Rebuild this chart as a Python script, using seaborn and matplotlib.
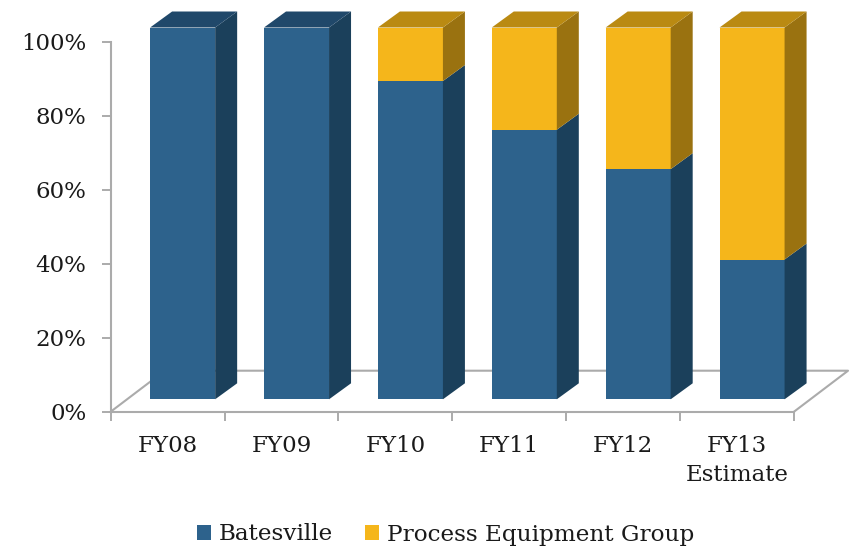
import matplotlib
matplotlib.use("Agg")
import matplotlib.pyplot as plt
import numpy as np
import seaborn as sns
from matplotlib.patches import Polygon
from matplotlib.transforms import Affine2D

fiscal_years = ["FY08", "FY09", "FY10", "FY11", "FY12", "FY13\nEstimate"]
batesville_share = [100, 100, 85.6, 72.5, 61.9, 37.6]
process_share = [0, 0, 14.4, 27.5, 38.1, 62.4]
year_ticks = [0, 20, 40, 60, 80, 100]

BLUE = "#2D628C"
YELLOW = "#F5B61B"
GREY = "#ABABAB"
# side and top faces of the fake 3D boxes
SHADES = {BLUE: ("#1B405B", "#20486A"), YELLOW: ("#9A7210", "#BA8A12")}

sns.set_theme(style="ticks")
plt.rcParams["font.family"] = ["DejaVu Serif"]

W, H = 850, 547
fig = plt.figure(figsize=(W / 100, H / 100), dpi=100)
ax = fig.add_axes([110.7 / W, 1 - 411.7 / H, (794 - 110.7) / W, 370 / H])

sns.barplot(x=fiscal_years, y=batesville_share, color=BLUE, saturation=1,
            width=0.571, label="Batesville", linewidth=0, ax=ax, zorder=3)
sns.barplot(x=fiscal_years, y=process_share, bottom=batesville_share,
            color=YELLOW, saturation=1, width=0.571, linewidth=0,
            label="Process Equipment Group", ax=ax, zorder=3)

ax.set_xlim(-0.5, 5.5)
ax.set_ylim(0, 100)

# floor of the box, goes behind the bars
ax.plot([-0.5, -0.0255, 5.9745, 5.5], [0, 11.08, 11.08, 0], color=GREY,
        lw=1.5, clip_on=False, zorder=1)

# HACK: push the front faces back into the box, then add sides by hand
y0 = ax.transData.transform((0, 0))[1]
shift = (Affine2D().translate(0, -y0).scale(1, 371.8 / 370)
         .translate(15, y0 + 12.4))
depth_x, depth_y = 22, 16
for bar in ax.patches:
    bar.set_transform(ax.transData + shift)
    bar.set_clip_on(False)
    if bar.get_height() <= 0:
        continue
    (x0, b), (x1, t) = bar.get_window_extent().get_points()
    side, top = SHADES[matplotlib.colors.to_hex(bar.get_facecolor()).upper()]
    ax.add_patch(Polygon(
        [(x1, b), (x1 + depth_x, b + depth_y), (x1 + depth_x, t + depth_y), (x1, t)],
        closed=True, fc=side, ec="none", transform=None, clip_on=False, zorder=3))
    if bar.get_y() + bar.get_height() >= 99.9:
        ax.add_patch(Polygon(
            [(x0, t), (x0 + depth_x, t + depth_y), (x1 + depth_x, t + depth_y), (x1, t)],
            closed=True, fc=top, ec="none", transform=None, clip_on=False, zorder=3))

# Axis styling
ax.set_yticks(year_ticks)
ax.set_yticklabels([f"{v}%" for v in year_ticks])
ax.set_xticks(np.arange(-0.5, 6, 1), minor=True)
ax.tick_params(axis="x", which="major", length=0, pad=17, labelsize=16.5,
               colors="k")
ax.tick_params(axis="x", which="minor", length=6.5, width=1.4, color=GREY)
ax.tick_params(axis="y", length=6.5, width=1.4, color=GREY, pad=11,
               labelsize=16.5, labelcolor="k")
sns.despine(ax=ax)
[ax.spines[s].set_color(GREY) for s in ["left", "bottom"]]
[ax.spines[s].set_linewidth(1.5) for s in ["left", "bottom"]]
for label in ax.get_xticklabels():
    label.set_linespacing(1.37)

handles, labels = ax.get_legend_handles_labels()
ax.legend(handles=handles, labels=labels, ncol=2, loc="center",
          bbox_to_anchor=(445.5 / W, 1 - 534.5 / H), bbox_transform=fig.transFigure,
          frameon=False, fontsize=16.7, handlelength=0.6, handleheight=0.6,
          handletextpad=0.32, columnspacing=1.4, labelcolor="k")

fig.savefig("out.png", dpi=100)
